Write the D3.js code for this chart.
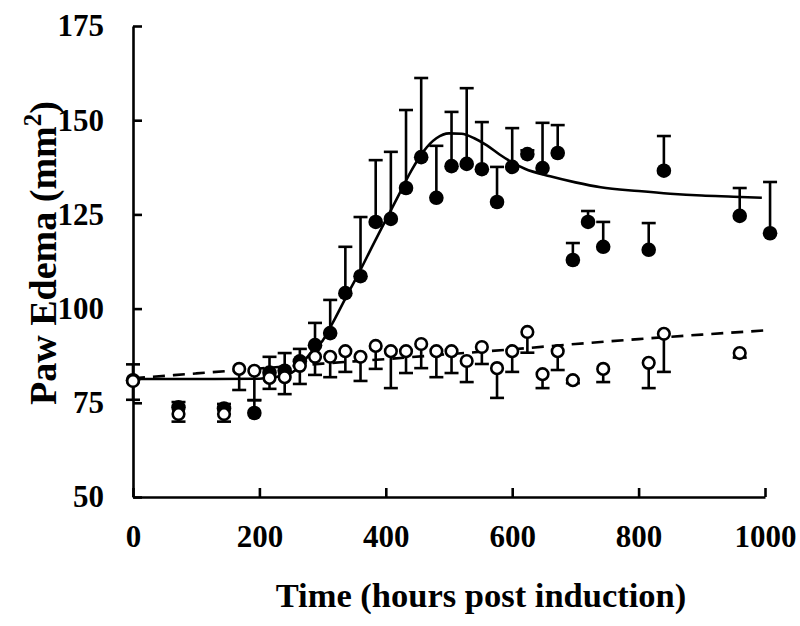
<!DOCTYPE html>
<html><head><meta charset="utf-8">
<script src="https://cdn.jsdelivr.net/npm/d3@7"></script>
<style>body{margin:0;background:#fff}svg{display:block}text{font-family:"Liberation Serif","Times New Roman",serif;font-weight:bold;fill:#000}</style>
</head><body><svg id="c" width="800" height="626"></svg>
<script>
// Filled circles (arthritic group): time, mean, upper SEM
const filledTime = [0,72,144,192,216,240,264,288,312,336,360,384,408,432,456,480,504,528,552,576,600,624,648,672,696,720,744,816,840,960,1008];
const filledValue = [81,73.8,73.5,72.3,83,83.5,86,90.3,93.5,104.1,108.6,123,123.8,132,140.2,129.4,137.8,138.4,137,128.3,137.6,141,137.3,141.3,112.9,123,116.4,115.6,136.6,124.6,120];
const filledErr = [4.2,1.4,1.2,3.4,4.2,4.7,3.3,5.9,8.8,12.3,15.7,16.4,17.8,20.7,21,13.8,14.4,20.1,12.5,9.3,10.3,1,12,7.4,4.5,2.9,6.6,7.1,9.2,7.4,13.6];
// Open circles (control group): time, mean, lower SEM
const openTime = [0,72,144,168,192,216,240,264,288,312,336,360,384,408,432,456,480,504,528,552,576,600,624,648,672,696,744,816,840,960];
const openValue = [80.8,72,72,84,83.5,81.6,81.8,84.8,87.2,87.2,88.7,87.2,90.1,88.7,88.7,90.6,88.7,88.7,86.1,89.8,84.2,88.7,93.8,82.6,88.7,81,84,85.6,93.3,88.2];
const openErr = [5,2,2,5.6,7.8,2.9,4.5,4.8,4.8,5.4,5.5,6.4,6.1,9.8,5.8,6.4,6.9,5.8,5.6,4.5,7.9,5.5,5.5,3.7,5,0.8,3.5,6.7,10.1,1.2];
// Fitted curves
const fitSolidTime = [0,100,200,240,260,280,300,320,340,360,380,400,420,440,460,480,500,520,540,560,580,600,620,660,700,740,800,850,900,950,995];
const fitSolidValue = [81.3,81.3,81.4,82.3,84,88,91.5,97.5,104,110.3,117,123.5,130,136.5,141.8,145.2,146.5,146.4,145.2,143.3,140.9,138.8,137.1,135.1,133.5,132.2,131.2,130.5,130,129.7,129.4];
const fitDashTime = [0,100,200,300,400,500,600,700,800,900,1000];
const fitDashValue = [81.5,82.8,84.1,85.4,86.6,87.9,89.2,90.6,91.9,93.1,94.2];
const xTicks = [0,200,400,600,800,1000];
const yTicks = [50,75,100,125,150,175];

const svg = d3.select("#c");
const x = d3.scaleLinear().domain([0,1000]).range([133,765]);
const y = d3.scaleLinear().domain([50,175]).range([497,26]);
const sw = 2.6;

// axes
svg.append("g").attr("transform","translate(0,497)")
  .call(d3.axisBottom(x).tickValues(xTicks).tickFormat(d3.format("d")).tickSizeInner(-9).tickSizeOuter(0).tickPadding(28))
  .call(g=>{g.select(".domain").attr("stroke-width",sw).attr("stroke","#000");
    g.selectAll(".tick line").attr("stroke-width",sw);
    g.selectAll("text").attr("font-size",31).attr("font-family","Liberation Serif").attr("font-weight","bold").attr("dy","0.71em");});
svg.append("g").attr("transform","translate(133,0)")
  .call(d3.axisLeft(y).tickValues(yTicks).tickSizeInner(-9).tickSizeOuter(0).tickPadding(29))
  .call(g=>{g.select(".domain").attr("stroke-width",sw).attr("stroke","#000");
    g.selectAll(".tick line").attr("stroke-width",sw);
    g.selectAll("text").attr("font-size",31).attr("font-family","Liberation Serif").attr("font-weight","bold");});

const line = d3.line().x(d=>x(d[0])).y(d=>y(d[1])).curve(d3.curveMonotoneX);
const cap = 7;

// filled error bars
const fData = filledTime.map((t,i)=>({t,v:filledValue[i],e:filledErr[i]}));
const oData = openTime.map((t,i)=>({t,v:openValue[i],e:openErr[i]}));
const fe = svg.append("g").attr("stroke","#000").attr("stroke-width",sw);
fData.forEach(d=>{
  fe.append("line").attr("x1",x(d.t)).attr("x2",x(d.t)).attr("y1",y(d.v)).attr("y2",y(d.v+d.e));
  fe.append("line").attr("x1",x(d.t)-cap).attr("x2",x(d.t)+cap).attr("y1",y(d.v+d.e)).attr("y2",y(d.v+d.e));
});
svg.append("g").selectAll("circle").data(fData).join("circle")
  .attr("cx",d=>x(d.t)).attr("cy",d=>y(d.v)).attr("r",7.3).attr("fill","#000");

// fit lines
svg.append("path").datum(fitSolidTime.map((t,i)=>[t,fitSolidValue[i]])).attr("d",line)
  .attr("fill","none").attr("stroke","#000").attr("stroke-width",sw);
svg.append("path").datum(fitDashTime.map((t,i)=>[t,fitDashValue[i]])).attr("d",line)
  .attr("fill","none").attr("stroke","#000").attr("stroke-width",sw).attr("stroke-dasharray","12,8");

// open error bars
const oe = svg.append("g").attr("stroke","#000").attr("stroke-width",sw);
oData.forEach(d=>{
  oe.append("line").attr("x1",x(d.t)).attr("x2",x(d.t)).attr("y1",y(d.v)).attr("y2",y(d.v-d.e));
  oe.append("line").attr("x1",x(d.t)-cap).attr("x2",x(d.t)+cap).attr("y1",y(d.v-d.e)).attr("y2",y(d.v-d.e));
});
svg.append("g").selectAll("circle").data(oData).join("circle")
  .attr("cx",d=>x(d.t)).attr("cy",d=>y(d.v)).attr("r",5.8).attr("fill","#fff").attr("stroke","#000").attr("stroke-width",2.6);

// titles
svg.append("text").attr("x",481).attr("y",607).attr("text-anchor","middle").attr("font-size",34.5).text("Time (hours post induction)");
const yt = svg.append("text").attr("transform","translate(56,253) rotate(-90)").attr("text-anchor","middle").attr("font-size",38);
yt.append("tspan").text("Paw Edema (mm");
yt.append("tspan").attr("font-size",25).attr("dy",-15).text("2");
yt.append("tspan").attr("dy",15).text(")");
</script></body></html>
